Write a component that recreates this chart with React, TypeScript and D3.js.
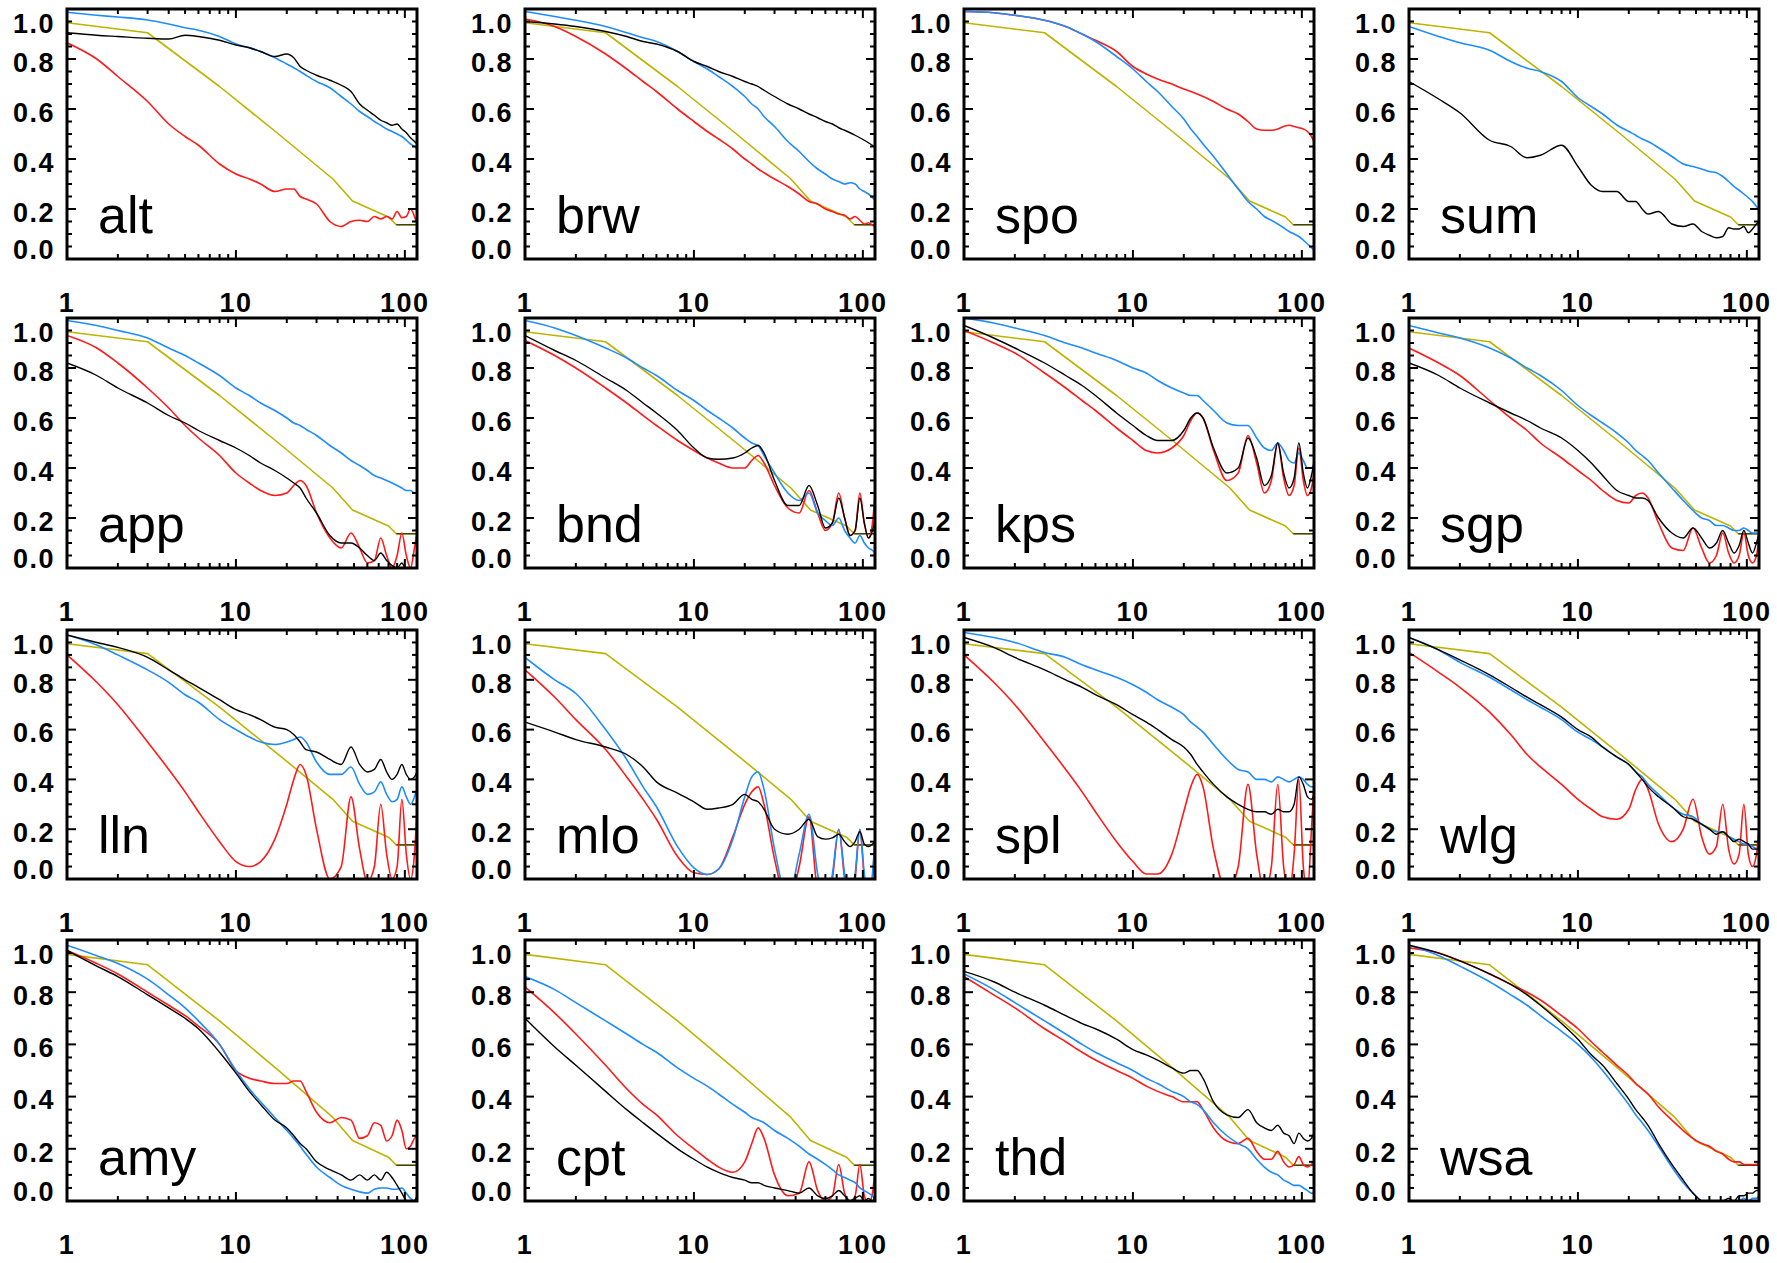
import React from 'react';
import * as d3 from 'd3';

// Lag axis (hours) shared by every measured series
const LAGS = [1, 1.5, 2, 3, 4, 5, 6, 8, 10, 12, 14, 17, 20, 22, 24, 26, 30, 36, 42, 48, 54, 60, 66, 72, 78, 84, 90, 96, 102, 108, 114, 118];

// Model curve (olive), the same in every panel
const MODEL_LAGS = [1, 3, 8, 17.5, 37.5, 49, 80, 89, 118];
const MODEL_VALUES = [0.945, 0.905, 0.69, 0.505, 0.32, 0.232, 0.168, 0.137, 0.137];

const STATIONS = ['alt', 'brw', 'spo', 'sum', 'app', 'bnd', 'kps', 'sgp', 'lln', 'mlo', 'spl', 'wlg', 'amy', 'cpt', 'thd', 'wsa'];

const Y_TICKS = [0, 0.2, 0.4, 0.6, 0.8, 1.0];
const Y_LABELS = ['0.0', '0.2', '0.4', '0.6', '0.8', '1.0'];
const X_TICKS = [1, 10, 100];
const X_LABELS = ['1', '10', '100'];

const ALT_BLACK = [0.905,0.895,0.89,0.883,0.88,0.895,0.89,0.875,0.856,0.845,0.83,0.81,0.82,0.805,0.77,0.755,0.735,0.715,0.695,0.67,0.62,0.595,0.575,0.555,0.545,0.535,0.54,0.52,0.505,0.485,0.47,0.46];
const ALT_RED = [0.865,0.8,0.73,0.63,0.54,0.49,0.455,0.38,0.34,0.32,0.30,0.27,0.28,0.28,0.25,0.24,0.22,0.15,0.13,0.15,0.155,0.15,0.17,0.16,0.17,0.16,0.19,0.165,0.17,0.2,0.17,0.14];
const ALT_BLUE = [0.987,0.975,0.968,0.956,0.94,0.925,0.915,0.89,0.86,0.845,0.83,0.805,0.78,0.765,0.75,0.735,0.71,0.685,0.65,0.62,0.59,0.57,0.55,0.535,0.52,0.51,0.50,0.49,0.475,0.46,0.45,0.44];

const BRW_BLACK = [0.95,0.94,0.93,0.91,0.89,0.87,0.86,0.83,0.79,0.77,0.75,0.73,0.71,0.70,0.69,0.675,0.65,0.62,0.60,0.58,0.565,0.55,0.54,0.525,0.515,0.505,0.495,0.485,0.475,0.465,0.455,0.45];
const BRW_RED = [0.96,0.93,0.89,0.82,0.76,0.71,0.67,0.60,0.55,0.51,0.48,0.44,0.40,0.38,0.36,0.345,0.32,0.29,0.26,0.23,0.22,0.20,0.19,0.18,0.175,0.16,0.17,0.155,0.14,0.145,0.135,0.13];
const BRW_BLUE = [0.99,0.97,0.955,0.93,0.905,0.885,0.87,0.83,0.79,0.76,0.73,0.69,0.65,0.62,0.60,0.57,0.53,0.47,0.43,0.39,0.36,0.34,0.32,0.31,0.30,0.305,0.30,0.28,0.27,0.26,0.245,0.235];

const SPO_BLACK: number[] = [];
const SPO_RED = [0.99,0.985,0.975,0.955,0.93,0.90,0.875,0.83,0.77,0.74,0.72,0.70,0.68,0.67,0.66,0.65,0.63,0.60,0.58,0.55,0.52,0.515,0.515,0.52,0.53,0.535,0.53,0.525,0.52,0.51,0.49,0.47];
const SPO_BLUE = [0.99,0.985,0.975,0.955,0.93,0.90,0.87,0.81,0.76,0.71,0.67,0.61,0.56,0.52,0.49,0.46,0.41,0.34,0.28,0.23,0.20,0.17,0.155,0.14,0.125,0.11,0.10,0.09,0.075,0.06,0.045,0.035];

const SUM_BLACK = [0.71,0.64,0.585,0.475,0.45,0.405,0.415,0.455,0.37,0.295,0.27,0.27,0.23,0.23,0.20,0.18,0.19,0.14,0.13,0.14,0.11,0.095,0.085,0.09,0.125,0.12,0.12,0.13,0.105,0.12,0.14,0.15];
const SUM_RED: number[] = [];
const SUM_BLUE = [0.93,0.89,0.865,0.835,0.79,0.763,0.75,0.71,0.645,0.61,0.58,0.536,0.51,0.495,0.48,0.47,0.445,0.41,0.38,0.37,0.36,0.35,0.345,0.33,0.31,0.29,0.275,0.26,0.245,0.23,0.21,0.20];

const APP_BLACK = [0.82,0.77,0.72,0.66,0.61,0.58,0.55,0.51,0.48,0.45,0.42,0.39,0.36,0.34,0.32,0.28,0.22,0.13,0.10,0.10,0.08,0.05,0.03,0.06,0.03,0.01,0.0,0.02,-0.01,0.0,-0.01,0.0];
const APP_RED = [0.93,0.88,0.82,0.72,0.64,0.57,0.52,0.45,0.38,0.34,0.31,0.29,0.30,0.33,0.35,0.33,0.22,0.12,0.08,0.14,0.08,0.02,0.03,0.12,0.05,0.0,0.05,0.14,0.05,0.0,0.08,0.14];
const APP_BLUE = [0.99,0.97,0.95,0.92,0.88,0.85,0.82,0.77,0.72,0.69,0.66,0.63,0.60,0.58,0.57,0.555,0.53,0.49,0.46,0.43,0.41,0.39,0.37,0.36,0.35,0.34,0.33,0.32,0.31,0.31,0.30,0.30];

const BND_BLACK = [0.93,0.87,0.83,0.76,0.71,0.66,0.62,0.55,0.48,0.44,0.435,0.44,0.46,0.48,0.49,0.46,0.35,0.25,0.25,0.33,0.25,0.16,0.18,0.28,0.2,0.13,0.15,0.28,0.18,0.12,0.15,0.2];
const BND_RED = [0.91,0.85,0.80,0.72,0.66,0.61,0.57,0.51,0.47,0.44,0.42,0.40,0.40,0.43,0.45,0.42,0.33,0.24,0.22,0.31,0.22,0.15,0.18,0.3,0.2,0.13,0.15,0.3,0.18,0.12,0.18,0.3];
const BND_BLUE = [0.99,0.96,0.93,0.88,0.84,0.80,0.77,0.71,0.67,0.63,0.60,0.56,0.52,0.50,0.49,0.45,0.38,0.30,0.27,0.30,0.22,0.19,0.17,0.2,0.15,0.12,0.1,0.13,0.1,0.08,0.07,0.06];

const KPS_BLACK = [0.97,0.92,0.88,0.82,0.77,0.73,0.69,0.62,0.57,0.53,0.51,0.51,0.55,0.60,0.62,0.6,0.48,0.38,0.4,0.52,0.44,0.33,0.37,0.5,0.38,0.32,0.36,0.5,0.38,0.32,0.37,0.42];
const KPS_RED = [0.95,0.9,0.86,0.78,0.72,0.67,0.63,0.56,0.51,0.47,0.46,0.48,0.53,0.59,0.62,0.6,0.47,0.35,0.38,0.53,0.42,0.3,0.35,0.5,0.36,0.29,0.33,0.48,0.35,0.29,0.32,0.38];
const KPS_BLUE = [1.0,0.98,0.96,0.93,0.9,0.88,0.86,0.83,0.80,0.78,0.75,0.72,0.70,0.69,0.69,0.67,0.63,0.58,0.57,0.57,0.52,0.48,0.47,0.5,0.47,0.43,0.42,0.46,0.43,0.40,0.40,0.42];

const SGP_BLACK = [0.82,0.77,0.72,0.66,0.62,0.59,0.56,0.52,0.47,0.42,0.37,0.31,0.29,0.28,0.28,0.27,0.2,0.14,0.12,0.16,0.12,0.08,0.1,0.15,0.1,0.06,0.09,0.15,0.1,0.06,0.1,0.14];
const SGP_RED = [0.88,0.82,0.77,0.67,0.6,0.55,0.5,0.44,0.39,0.35,0.31,0.27,0.26,0.29,0.30,0.28,0.18,0.08,0.07,0.16,0.08,0.02,0.05,0.14,0.06,0.02,0.05,0.14,0.05,0.02,0.05,0.13];
const SGP_BLUE = [0.97,0.94,0.92,0.88,0.84,0.80,0.77,0.71,0.65,0.61,0.58,0.54,0.50,0.47,0.45,0.43,0.38,0.32,0.27,0.23,0.20,0.19,0.17,0.17,0.16,0.15,0.15,0.16,0.15,0.14,0.14,0.14];

const LLN_BLACK = [0.98,0.95,0.93,0.89,0.84,0.80,0.77,0.72,0.68,0.66,0.64,0.61,0.6,0.58,0.55,0.52,0.51,0.48,0.46,0.53,0.46,0.43,0.44,0.48,0.43,0.40,0.42,0.46,0.42,0.40,0.41,0.43];
const LLN_RED = [0.9,0.79,0.7,0.55,0.44,0.35,0.27,0.15,0.07,0.05,0.07,0.16,0.3,0.4,0.46,0.42,0.2,0.0,0.05,0.33,0.12,-0.01,0.05,0.3,0.1,0.0,0.05,0.32,0.1,0.0,0.1,0.28];
const LLN_BLUE = [0.98,0.94,0.9,0.84,0.79,0.74,0.71,0.64,0.60,0.57,0.55,0.54,0.55,0.56,0.57,0.55,0.47,0.42,0.42,0.45,0.38,0.34,0.35,0.39,0.34,0.31,0.32,0.37,0.33,0.30,0.33,0.36];

const MLO_BLACK = [0.63,0.59,0.56,0.53,0.50,0.45,0.39,0.345,0.31,0.28,0.285,0.3,0.34,0.32,0.31,0.28,0.2,0.18,0.2,0.24,0.17,0.16,0.165,0.18,0.15,0.13,0.15,0.19,0.14,0.13,0.14,0.15];
const MLO_RED = [0.84,0.73,0.64,0.52,0.41,0.32,0.24,0.09,0.025,0.018,0.04,0.17,0.3,0.35,0.37,0.3,0.08,-0.1,0.05,0.25,-0.05,-0.1,0.0,0.2,0.0,-0.1,0.0,0.2,0.0,-0.1,0.0,0.16];
const MLO_BLUE = [0.89,0.8,0.745,0.6,0.48,0.37,0.29,0.13,0.045,0.018,0.04,0.16,0.33,0.41,0.43,0.36,0.12,-0.08,0.1,0.26,0.02,-0.1,0.02,0.2,0.02,-0.1,0.02,0.2,0.02,-0.1,0.02,0.16];

const SPL_BLACK = [0.97,0.93,0.89,0.84,0.80,0.77,0.74,0.70,0.66,0.63,0.60,0.56,0.53,0.50,0.46,0.43,0.38,0.33,0.3,0.28,0.27,0.27,0.26,0.28,0.27,0.27,0.3,0.41,0.38,0.33,0.32,0.34];
const SPL_RED = [0.9,0.79,0.7,0.55,0.44,0.35,0.27,0.15,0.07,0.02,0.02,0.1,0.27,0.37,0.42,0.37,0.12,-0.05,0.05,0.38,0.1,-0.05,0.05,0.38,0.05,-0.05,0.1,0.4,0.05,-0.05,0.2,0.38];
const SPL_BLUE = [0.99,0.97,0.95,0.91,0.89,0.86,0.84,0.81,0.78,0.75,0.72,0.69,0.66,0.63,0.61,0.59,0.54,0.48,0.44,0.43,0.4,0.4,0.39,0.41,0.4,0.39,0.4,0.41,0.4,0.38,0.37,0.37];

const WLG_BLACK = [0.97,0.92,0.88,0.82,0.77,0.73,0.70,0.65,0.6,0.57,0.53,0.49,0.46,0.43,0.4,0.37,0.33,0.29,0.25,0.24,0.22,0.2,0.18,0.19,0.17,0.15,0.16,0.15,0.14,0.12,0.12,0.12];
const WLG_RED = [0.91,0.83,0.77,0.67,0.58,0.5,0.45,0.38,0.32,0.28,0.25,0.24,0.28,0.36,0.4,0.36,0.22,0.15,0.2,0.32,0.17,0.1,0.13,0.3,0.12,0.06,0.1,0.3,0.1,0.05,0.1,0.22];
const WLG_BLUE = [0.97,0.92,0.87,0.81,0.76,0.72,0.69,0.64,0.59,0.56,0.53,0.49,0.46,0.43,0.41,0.38,0.34,0.29,0.26,0.25,0.22,0.2,0.19,0.19,0.17,0.16,0.15,0.14,0.14,0.13,0.12,0.11];

const AMY_BLACK = [0.96,0.9,0.86,0.79,0.74,0.7,0.66,0.57,0.49,0.42,0.37,0.31,0.28,0.25,0.22,0.2,0.15,0.12,0.1,0.08,0.1,0.08,0.1,0.08,0.11,0.09,0.06,0.03,0.0,-0.01,0.0,0.02];
const AMY_RED = [0.96,0.91,0.87,0.8,0.75,0.71,0.67,0.6,0.5,0.47,0.46,0.45,0.45,0.46,0.46,0.42,0.34,0.3,0.32,0.31,0.24,0.25,0.3,0.29,0.23,0.25,0.31,0.27,0.2,0.21,0.24,0.25];
const AMY_BLUE = [0.98,0.94,0.91,0.85,0.79,0.74,0.69,0.6,0.5,0.43,0.38,0.32,0.27,0.24,0.21,0.18,0.13,0.09,0.06,0.045,0.035,0.03,0.045,0.05,0.05,0.045,0.045,0.05,0.03,0.01,0.0,0.01];

const CPT_BLACK = [0.7,0.59,0.52,0.42,0.35,0.3,0.26,0.2,0.16,0.13,0.11,0.09,0.08,0.07,0.07,0.06,0.05,0.04,0.03,0.05,0.02,0.01,0.02,0.04,0.02,0.0,0.01,0.02,0.0,0.01,0.0,0.02];
const CPT_RED = [0.82,0.72,0.64,0.52,0.43,0.37,0.33,0.25,0.2,0.16,0.13,0.11,0.15,0.22,0.28,0.24,0.1,0.02,0.03,0.15,0.04,0.0,0.02,0.14,0.03,0.0,0.02,0.14,0.02,-0.01,0.03,0.12];
const CPT_BLUE = [0.86,0.81,0.76,0.69,0.64,0.6,0.57,0.51,0.47,0.44,0.41,0.37,0.34,0.32,0.31,0.3,0.27,0.24,0.21,0.18,0.16,0.14,0.12,0.1,0.09,0.08,0.07,0.05,0.04,0.03,0.02,0.01];

const THD_BLACK = [0.88,0.84,0.8,0.75,0.71,0.68,0.66,0.62,0.58,0.56,0.54,0.51,0.49,0.5,0.5,0.47,0.38,0.33,0.32,0.35,0.3,0.28,0.27,0.29,0.26,0.25,0.22,0.26,0.24,0.23,0.24,0.26];
const THD_RED = [0.86,0.79,0.74,0.66,0.61,0.57,0.54,0.5,0.47,0.44,0.42,0.4,0.38,0.38,0.38,0.35,0.28,0.23,0.22,0.24,0.19,0.16,0.16,0.19,0.15,0.13,0.14,0.17,0.14,0.13,0.14,0.15];
const THD_BLUE = [0.87,0.81,0.76,0.69,0.64,0.6,0.57,0.53,0.5,0.47,0.45,0.42,0.4,0.38,0.37,0.35,0.3,0.25,0.22,0.2,0.16,0.13,0.11,0.1,0.08,0.07,0.06,0.06,0.05,0.04,0.03,0.03];

const WSA_BLACK = [0.98,0.95,0.92,0.87,0.83,0.79,0.75,0.68,0.62,0.56,0.52,0.45,0.39,0.35,0.32,0.29,0.22,0.14,0.08,0.03,0.0,-0.01,0.0,0.0,0.01,0.0,0.02,0.02,0.03,0.03,0.04,0.04];
const WSA_RED = [0.97,0.95,0.92,0.87,0.83,0.8,0.77,0.71,0.66,0.61,0.57,0.52,0.48,0.45,0.43,0.41,0.36,0.31,0.27,0.24,0.22,0.21,0.19,0.18,0.16,0.15,0.15,0.14,0.14,0.14,0.14,0.15];
const WSA_BLUE = [0.98,0.94,0.9,0.84,0.79,0.75,0.71,0.65,0.6,0.55,0.5,0.43,0.37,0.33,0.3,0.27,0.21,0.13,0.07,0.03,0.0,-0.01,-0.01,0.0,0.0,0.0,0.0,0.01,0.0,0.01,0.01,0.02];

const BLACK_SERIES = [ALT_BLACK, BRW_BLACK, SPO_BLACK, SUM_BLACK, APP_BLACK, BND_BLACK, KPS_BLACK, SGP_BLACK, LLN_BLACK, MLO_BLACK, SPL_BLACK, WLG_BLACK, AMY_BLACK, CPT_BLACK, THD_BLACK, WSA_BLACK];
const RED_SERIES = [ALT_RED, BRW_RED, SPO_RED, SUM_RED, APP_RED, BND_RED, KPS_RED, SGP_RED, LLN_RED, MLO_RED, SPL_RED, WLG_RED, AMY_RED, CPT_RED, THD_RED, WSA_RED];
const BLUE_SERIES = [ALT_BLUE, BRW_BLUE, SPO_BLUE, SUM_BLUE, APP_BLUE, BND_BLUE, KPS_BLUE, SGP_BLUE, LLN_BLUE, MLO_BLUE, SPL_BLUE, WLG_BLUE, AMY_BLUE, CPT_BLUE, THD_BLUE, WSA_BLUE];

const W = 1777;
const H = 1263;
const COL_LEFT = [67, 525, 964, 1409];
const ROW_TOP = [9, 318, 630, 940];
const ROW_H = [250, 250, 249, 261];
const PW = 350;
const FONT = '"Liberation Sans", Arial, Helvetica, sans-serif';
const C_BLACK = '#000000';
const C_RED = '#ff1a1a';
const C_BLUE = '#1e8cff';
const C_OLIVE = '#bdb300';

const x = d3.scaleLog().domain([1, 118]).range([0, PW]);

const yMinorVals = d3.range(1, 20).map((k) => k * 0.05).filter((v) => Math.abs(v * 5 - Math.round(v * 5)) > 1e-6);
const yMajorVals = [0.2, 0.4, 0.6, 0.8];
const xMinor = [2, 3, 4, 5, 6, 7, 8, 9, 20, 30, 40, 50, 60, 70, 80, 90];

function Panel({ idx }: { idx: number }) {
  const col = idx % 4;
  const row = Math.floor(idx / 4);
  const left = COL_LEFT[col];
  const top = ROW_TOP[row];
  const PH = ROW_H[row];
  const y = d3.scaleLinear().domain([0, 1]).range([PH, 0]);
  const seriesLine = d3.line<number>()
    .x((_, i) => x(LAGS[i]))
    .y((d) => y(d))
    .curve(d3.curveMonotoneX);
  const modelLine = d3.line<number>()
    .x((_, i) => x(MODEL_LAGS[i]))
    .y((d) => y(d));
  const clipId = `clip-${idx}`;
  const black = BLACK_SERIES[idx];
  const red = RED_SERIES[idx];
  const blue = BLUE_SERIES[idx];
  const MAJ = 9;
  const MIN = 5;
  const n = MODEL_VALUES.length;
  const tail = `M${x(MODEL_LAGS[n - 2])},${y(MODEL_VALUES[n - 2])}L${x(MODEL_LAGS[n - 1])},${y(MODEL_VALUES[n - 1])}`;
  return (
    <g transform={`translate(${left},${top})`}>
      <defs>
        <clipPath id={clipId}>
          <rect x={0} y={0} width={PW} height={PH} />
        </clipPath>
      </defs>
      <g clipPath={`url(#${clipId})`} fill="none" strokeLinejoin="round">
        <path d={modelLine(MODEL_VALUES) || ''} stroke={C_OLIVE} strokeWidth={1.6} />
        <path d={tail} stroke="#3a3a10" strokeWidth={1.4} />
        {red.length > 0 && <path d={seriesLine(red) || ''} stroke={C_RED} strokeWidth={1.6} />}
        {blue.length > 0 && <path d={seriesLine(blue) || ''} stroke={C_BLUE} strokeWidth={1.6} />}
        {black.length > 0 && <path d={seriesLine(black) || ''} stroke={C_BLACK} strokeWidth={1.4} />}
      </g>
      <g stroke="#000" strokeWidth={2}>
        {yMajorVals.map((v) => (
          <g key={`ym${v}`}>
            <line x1={0} x2={MAJ} y1={y(v)} y2={y(v)} />
            <line x1={PW} x2={PW - MAJ} y1={y(v)} y2={y(v)} />
          </g>
        ))}
        {yMinorVals.map((v) => (
          <g key={`yn${v}`}>
            <line x1={0} x2={MIN} y1={y(v)} y2={y(v)} />
            <line x1={PW} x2={PW - MIN} y1={y(v)} y2={y(v)} />
          </g>
        ))}
        {X_TICKS.map((v) => (
          <g key={`xm${v}`}>
            <line x1={x(v)} x2={x(v)} y1={PH} y2={PH - MAJ} />
            <line x1={x(v)} x2={x(v)} y1={0} y2={MAJ} />
          </g>
        ))}
        {xMinor.map((v) => (
          <g key={`xn${v}`}>
            <line x1={x(v)} x2={x(v)} y1={PH} y2={PH - MIN} />
            <line x1={x(v)} x2={x(v)} y1={0} y2={MIN} />
          </g>
        ))}
      </g>
      <rect x={0} y={0} width={PW} height={PH} fill="none" stroke="#000" strokeWidth={3} />
      <g fontFamily={FONT} fontSize={27} fontWeight="bold" letterSpacing={1.5} textAnchor="end" fill="#000">
        {Y_TICKS.map((v, i) => {
          let cy = y(v) + 3;
          if (v === 1) cy = y(v) + 14;
          if (v === 0) cy = y(v) - 10;
          return (
            <text key={`yl${v}`} x={-12} y={cy} dy="0.36em">{Y_LABELS[i]}</text>
          );
        })}
      </g>
      <g fontFamily={FONT} fontSize={27} fontWeight="bold" letterSpacing={1.5} textAnchor="middle" fill="#000">
        {X_TICKS.map((v, i) => (
          <text key={`xl${v}`} x={x(v)} y={PH + 43} dy="0.36em">{X_LABELS[i]}</text>
        ))}
      </g>
      <text x={31} y={PH - 26} fontFamily={FONT} fontSize={52} fill="#000">{STATIONS[idx]}</text>
    </g>
  );
}

export default function App() {
  return (
    <svg width={W} height={H} viewBox={`0 0 ${W} ${H}`} style={{ position: 'absolute', left: 0, top: 0, background: '#fff' }}>
      <rect x={0} y={0} width={W} height={H} fill="#fff" />
      {STATIONS.map((_, i) => (
        <Panel key={i} idx={i} />
      ))}
    </svg>
  );
}
